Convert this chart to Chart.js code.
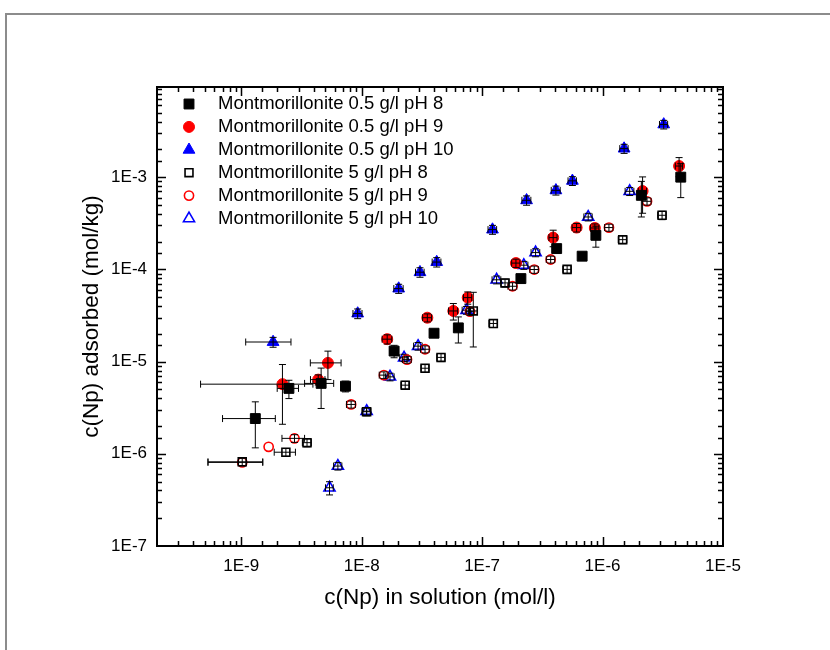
<!DOCTYPE html>
<html>
<head>
<meta charset="utf-8">
<script src="https://cdn.jsdelivr.net/npm/chart.js@4.4.0/dist/chart.umd.min.js"></script>
<style>
  html, body { margin: 0; padding: 0; background: #fff; }
  #wrap { position: relative; width: 830px; height: 650px; overflow: hidden; }
  #frame { position: absolute; left: 5px; top: 13px; width: 900px; height: 700px; border: 2px solid #8c8c8c; box-sizing: border-box; }
  canvas { position: absolute; left: 0; top: 0; }
</style>
</head>
<body>
<div id="wrap">
  <div id="frame"></div>
  <canvas id="chart" width="830" height="650"></canvas>
</div>
<script>
// axis ranges and titles
var xMin = 2e-10, xMax = 1e-5;
var yMin = 1e-7, yMax = 9.5e-3;
var xTitle = 'c(Np) in solution (mol/l)';
var yTitle = 'c(Np) adsorbed (mol/kg)';

var seriesNames = [
    'Montmorillonite 0.5 g/l pH 8',
    'Montmorillonite 0.5 g/l pH 9',
    'Montmorillonite 0.5 g/l pH 10',
    'Montmorillonite 5 g/l pH 8',
    'Montmorillonite 5 g/l pH 9',
    'Montmorillonite 5 g/l pH 10'
];

// 0.5 g/l pH 8
var xA = [1.31e-9, 2.49e-9, 4.61e-9, 7.34e-9, 1.86e-8, 3.99e-8, 6.35e-8, 2.10e-7, 4.16e-7, 6.77e-7, 8.80e-7, 2.10e-6, 4.46e-6];
var yA = [2.41e-6, 5.12e-6, 5.80e-6, 5.41e-6, 1.30e-5, 2.03e-5, 2.32e-5, 7.94e-5, 1.68e-4, 1.39e-4, 2.34e-4, 6.35e-4, 1.00e-3];
var xErrA = [0.61e-9, 0.5e-9, 1.25e-9, 0.5e-9, 1.5e-9, 3e-9, 4e-9, 1.5e-8, 3e-8, 4e-8, 6e-8, 1.5e-7, 3e-7];
var yErrA = [1.25e-6, 1.15e-6, 2.7e-6, 0.72e-6, 2e-6, 1.8e-6, 0.73e-5, 0.6e-5, 1.3e-5, 1.0e-5, 0.6e-4, 2.65e-4, 4e-4];

// 0.5 g/l pH 9
var xB = [2.20e-9, 4.36e-9, 5.25e-9, 1.63e-8, 3.51e-8, 5.77e-8, 7.60e-8, 1.91e-7, 3.89e-7, 6.09e-7, 8.63e-7, 2.15e-6, 4.32e-6];
var yB = [5.69e-6, 6.37e-6, 9.68e-6, 1.75e-5, 2.99e-5, 3.54e-5, 4.94e-5, 1.17e-4, 2.21e-4, 2.84e-4, 2.81e-4, 7.06e-4, 1.32e-3];
var xErrB = [1.74e-9, 0.6e-9, 1.5e-9, 1.5e-9, 3e-9, 5e-9, 6e-9, 1.5e-8, 3e-8, 5e-8, 7e-8, 1.7e-7, 3e-7];
var yErrB = [3.6e-6, 0.8e-6, 3.3e-6, 2e-6, 3e-6, 0.72e-5, 0.75e-5, 1.2e-5, 0.45e-4, 3e-5, 3e-5, 3e-4, 0.31e-3];

// 0.5 g/l pH 10
var xC = [1.84e-9, 9.27e-9, 2.03e-8, 3.05e-8, 4.20e-8, 1.22e-7, 2.34e-7, 4.10e-7, 5.62e-7, 1.51e-6, 3.22e-6];
var yC = [1.63e-5, 3.32e-5, 6.19e-5, 9.31e-5, 1.20e-4, 2.70e-4, 5.61e-4, 7.19e-4, 9.12e-4, 2.04e-3, 3.73e-3];
var xErrC = [0.75e-9, 0.8e-9, 1.8e-9, 2.5e-9, 3.5e-9, 1e-8, 2e-8, 3.5e-8, 4.5e-8, 1.2e-7, 2.5e-7];
var yErrC = [2e-6, 4e-6, 7e-6, 1.1e-5, 1.4e-5, 3e-5, 6.5e-5, 8e-5, 1e-4, 2.3e-4, 4e-4];

// 5 g/l pH 8
var xD = [1.02e-9, 2.35e-9, 3.52e-9, 1.10e-8, 2.30e-8, 3.36e-8, 4.56e-8, 8.45e-8, 1.24e-7, 1.55e-7, 5.08e-7, 1.47e-6, 3.12e-6];
var yD = [8.18e-7, 1.04e-6, 1.32e-6, 2.86e-6, 5.55e-6, 8.47e-6, 1.11e-5, 3.54e-5, 2.59e-5, 7.13e-5, 1.00e-4, 2.10e-4, 3.86e-4];
var xErrD = [0.49e-9, 0.47e-9, 0.3e-9, 0.9e-9, 1.8e-9, 2.5e-9, 3.5e-9, 7e-9, 1e-8, 1.2e-8, 4e-8, 1.2e-7, 2.5e-7];
var yErrD = [0.8e-7, 1e-7, 1.3e-7, 2.8e-7, 5.5e-7, 8e-7, 1.1e-6, 2.1e-5, 2.5e-6, 7e-6, 1e-5, 2e-5, 4e-5];

// 5 g/l pH 9
var xE = [1.02e-9, 1.69e-9, 2.77e-9, 8.18e-9, 1.53e-8, 2.38e-8, 3.36e-8, 7.94e-8, 1.79e-7, 2.71e-7, 3.71e-7, 1.13e-6, 2.34e-6];
var yE = [8.07e-7, 1.19e-6, 1.47e-6, 3.43e-6, 7.13e-6, 1.05e-5, 1.36e-5, 3.48e-5, 6.56e-5, 9.96e-5, 1.28e-4, 2.84e-4, 5.47e-4];
var xErrE = [0.49e-9, null, 0.59e-9, 0.7e-9, 1.3e-9, 2e-9, 2.8e-9, 6e-9, 1.5e-8, 2.2e-8, 3e-8, 9e-8, 1.9e-7];
var yErrE = [null, null, 1.4e-7, 3e-7, 6e-7, 9e-7, 1.2e-6, 3e-6, 6e-6, 9e-6, 1.1e-5, 2.5e-5, 5e-5];

// 5 g/l pH 10
var xF = [5.41e-9, 6.35e-9, 1.10e-8, 1.72e-8, 2.25e-8, 2.94e-8, 7.43e-8, 1.32e-7, 2.22e-7, 2.78e-7, 7.60e-7, 1.68e-6];
var yF = [4.28e-7, 7.36e-7, 2.90e-6, 6.83e-6, 1.10e-5, 1.47e-5, 3.61e-5, 7.71e-5, 1.11e-4, 1.52e-4, 3.70e-4, 7.02e-4];
var xErrF = [0.4e-9, 0.5e-9, 0.9e-9, 1.4e-9, 1.8e-9, 2.4e-9, 6e-9, 1.1e-8, 1.8e-8, 2.3e-8, 6e-8, 1.4e-7];
var yErrF = [0.7e-7, 0.7e-7, 2.8e-7, 6.5e-7, 1e-6, 1.4e-6, 3.5e-6, 7.5e-6, 1.1e-5, 1.5e-5, 3.5e-5, 7e-5];

var FONT = "'Liberation Sans', Arial, sans-serif";

function points(xs, ys) {
    var out = [];
    for (var i = 0; i < xs.length; i++) out.push({ x: xs[i], y: ys[i] });
    return out;
}

function makeSet(label, xs, ys, xErr, yErr, style, radius, fill, stroke, bw) {
    return {
        label: label,
        data: points(xs, ys),
        xErr: xErr,
        yErr: yErr,
        pointStyle: style,
        pointRadius: radius,
        pointHoverRadius: radius,
        pointBackgroundColor: fill,
        pointBorderColor: stroke,
        pointBorderWidth: bw,
        showLine: false
    };
}

var datasets = [
    makeSet(seriesNames[0], xA, yA, xErrA, yErrA, 'rect', 7, '#000000', '#000000', 1),
    makeSet(seriesNames[1], xB, yB, xErrB, yErrB, 'circle', 5.5, '#ff0000', '#ff0000', 1),
    makeSet(seriesNames[2], xC, yC, xErrC, yErrC, 'triangle', 6.8, '#0000ff', '#0000ff', 1),
    makeSet(seriesNames[3], xD, yD, xErrD, yErrD, 'rect', 5.6, 'rgba(255,255,255,0)', '#000000', 1.6),
    makeSet(seriesNames[4], xE, yE, xErrE, yErrE, 'circle', 4.6, 'rgba(255,255,255,0)', '#ff0000', 1.6),
    makeSet(seriesNames[5], xF, yF, xErrF, yErrF, 'triangle', 6.4, 'rgba(255,255,255,0)', '#0000ff', 1.6)
];

function isDecade(v) {
    var e = Math.round(Math.log10(v));
    return Math.abs(v / Math.pow(10, e) - 1) < 1e-6;
}

function decadeLabel(v) {
    if (!isDecade(v)) return '';
    return '1E' + Math.round(Math.log10(v));
}

// error bars on top of each series
var errorBars = {
    id: 'errorBars',
    afterDatasetDraw: function(chart, args) {
        var ds = chart.data.datasets[args.index];
        var xs = chart.scales.x, ys = chart.scales.y;
        var ctx = chart.ctx;
        var area = chart.chartArea;
        var cap = 3.5;
        ctx.save();
        ctx.beginPath();
        ctx.rect(area.left, area.top, area.right - area.left, area.bottom - area.top);
        ctx.clip();
        ctx.strokeStyle = '#000';
        ctx.lineWidth = 1;
        for (var i = 0; i < ds.data.length; i++) {
            var p = ds.data[i];
            var px = xs.getPixelForValue(p.x), py = ys.getPixelForValue(p.y);
            var ex = ds.xErr ? ds.xErr[i] : null;
            var ey = ds.yErr ? ds.yErr[i] : null;
            ctx.beginPath();
            if (ex) {
                var lo = xs.getPixelForValue(Math.max(p.x - ex, xs.min));
                var hi = xs.getPixelForValue(p.x + ex);
                ctx.moveTo(lo, py); ctx.lineTo(hi, py);
                ctx.moveTo(lo, py - cap); ctx.lineTo(lo, py + cap);
                ctx.moveTo(hi, py - cap); ctx.lineTo(hi, py + cap);
            }
            if (ey) {
                var top = ys.getPixelForValue(p.y + ey);
                var bot = ys.getPixelForValue(Math.max(p.y - ey, ys.min));
                ctx.moveTo(px, top); ctx.lineTo(px, bot);
                ctx.moveTo(px - cap, top); ctx.lineTo(px + cap, top);
                ctx.moveTo(px - cap, bot); ctx.lineTo(px + cap, bot);
            }
            ctx.stroke();
        }
        ctx.restore();
    }
};

// box around the plot with inward ticks on all four sides
var boxTicks = {
    id: 'boxTicks',
    afterDraw: function(chart) {
        var ctx = chart.ctx;
        var a = chart.chartArea;
        var xs = chart.scales.x, ys = chart.scales.y;
        ctx.save();
        ctx.strokeStyle = '#000';
        ctx.lineWidth = 1.5;
        ctx.beginPath();
        xs.ticks.forEach(function(t) {
            if (t.value <= xs.min || t.value >= xs.max) return;
            var px = Math.round(xs.getPixelForValue(t.value)) + 0.5;
            var len = isDecade(t.value) ? 9 : 5;
            ctx.moveTo(px, a.bottom); ctx.lineTo(px, a.bottom - len);
            ctx.moveTo(px, a.top); ctx.lineTo(px, a.top + len);
        });
        ys.ticks.forEach(function(t) {
            if (t.value <= ys.min || t.value >= ys.max) return;
            var py = Math.round(ys.getPixelForValue(t.value)) + 0.5;
            var len = isDecade(t.value) ? 9 : 5;
            ctx.moveTo(a.left, py); ctx.lineTo(a.left + len, py);
            ctx.moveTo(a.right, py); ctx.lineTo(a.right - len, py);
        });
        ctx.stroke();
        ctx.lineWidth = 2;
        ctx.strokeRect(a.left, a.top, a.right - a.left, a.bottom - a.top);
        ctx.restore();
    }
};

// legend inside the plot, top left
var insideLegend = {
    id: 'insideLegend',
    afterDraw: function(chart) {
        var ctx = chart.ctx;
        var markX = 189, textX = 218, rowY = 104, step = 22.9;
        ctx.save();
        ctx.font = '18.5px ' + FONT;
        ctx.textBaseline = 'middle';
        ctx.textAlign = 'left';
        chart.data.datasets.forEach(function(ds, i) {
            var y = rowY + i * step;
            ctx.fillStyle = ds.pointBackgroundColor;
            ctx.strokeStyle = ds.pointBorderColor;
            ctx.lineWidth = ds.pointBorderWidth;
            Chart.helpers.drawPoint(ctx, {
                pointStyle: ds.pointStyle,
                radius: ds.pointRadius,
                rotation: 0,
                borderWidth: ds.pointBorderWidth
            }, markX, y);
            ctx.fillStyle = '#000';
            ctx.fillText(ds.label, textX, y);
        });
        ctx.restore();
    }
};

var chart = new Chart(document.getElementById('chart').getContext('2d'), {
    type: 'scatter',
    data: { datasets: datasets },
    plugins: [errorBars, boxTicks, insideLegend],
    options: {
        responsive: false,
        animation: false,
        layout: { padding: { top: 87, right: 107, left: 0, bottom: 0 } },
        plugins: {
            legend: { display: false },
            tooltip: { enabled: false }
        },
        scales: {
            x: {
                type: 'logarithmic',
                position: 'bottom',
                min: xMin,
                max: xMax,
                grid: { display: false, drawTicks: false },
                border: { display: false },
                ticks: {
                    callback: decadeLabel,
                    autoSkip: false,
                    maxRotation: 0,
                    padding: 10,
                    color: '#000',
                    font: { family: FONT, size: 17 }
                },
                title: {
                    display: true,
                    text: xTitle,
                    color: '#000',
                    font: { family: FONT, size: 22.5 },
                    padding: { top: 0, bottom: 38.5 }
                },
                afterFit: function(scale) { scale.height = 104; }
            },
            y: {
                type: 'logarithmic',
                position: 'left',
                min: yMin,
                max: yMax,
                grid: { display: false, drawTicks: false },
                border: { display: false },
                ticks: {
                    callback: decadeLabel,
                    autoSkip: false,
                    padding: 10,
                    color: '#000',
                    font: { family: FONT, size: 17 }
                },
                title: {
                    display: true,
                    text: yTitle,
                    color: '#000',
                    font: { family: FONT, size: 22.5 },
                    padding: { top: 78.5, bottom: 0 }
                },
                afterFit: function(scale) { scale.width = 157; }
            }
        }
    }
});
</script>
</body>
</html>
